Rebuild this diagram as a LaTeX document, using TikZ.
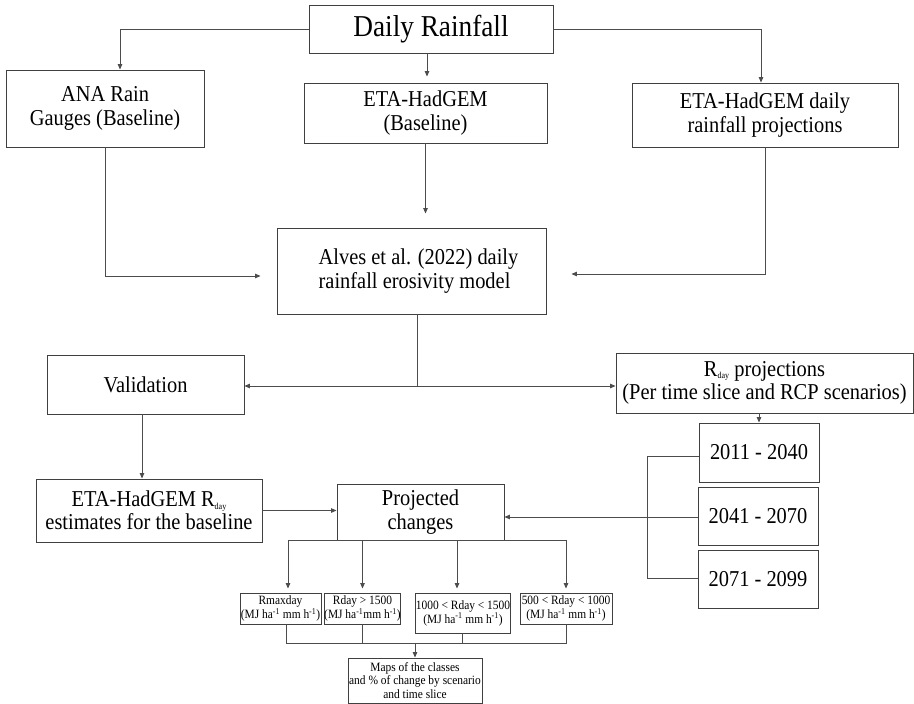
\documentclass[tikz,border=0pt]{standalone}
\usepackage{fontspec}
\setmainfont[FakeStretch=0.9]{Liberation Serif}
\usetikzlibrary{arrows.meta}
\newcommand{\rsub}[1]{\raisebox{-2.5pt}{\fontsize{9}{9}\selectfont #1}}
\tikzset{
  box/.style={draw=black!75, line width=0.9pt, inner sep=0pt, align=center, fill=white},
  bigtxt/.style={font=\fontsize{30.3}{33}\selectfont},
  midtxt/.style={font=\fontsize{22.7}{23.3}\selectfont},
  smalltxt/.style={font=\fontsize{12.7}{12}\selectfont},
  maptxt/.style={font=\fontsize{12.7}{13.5}\selectfont},
  conn/.style={draw=black!70, line width=0.9pt},
  arr/.style={conn, -{Triangle[length=5.5pt,width=4.5pt]}}
}
\begin{document}
\begin{tikzpicture}[x=1pt,y=-1pt]
\useasboundingbox[fill=white] (0,0) rectangle (914,704);
% nodes
\node[box,bigtxt,minimum width=244pt,minimum height=48pt] (daily) at (431,29) {Daily Rainfall};
\node[box,midtxt,minimum width=198pt,minimum height=77pt] (ana) at (105,108.5) {ANA Rain\\Gauges (Baseline)};
\node[box,midtxt,minimum width=243pt,minimum height=60pt] (mid) at (425.5,113) {ETA-HadGEM\\(Baseline)};
\node[box,midtxt,minimum width=266pt,minimum height=64pt] (right) at (765,115) {ETA-HadGEM daily\\rainfall projections};
\node[box,midtxt,align=left,minimum width=269pt,minimum height=86pt] (alves) at (411.5,271) {\hspace*{14pt}Alves et al. (2022) daily\\\hspace*{14pt}rainfall erosivity model};
\node[box,midtxt,minimum width=197pt,minimum height=59pt] (val) at (145.5,384.5) {Validation};
\node[box,midtxt,minimum width=297pt,minimum height=60pt] (rday) at (764.5,383) {R\rsub{day} projections\\(Per time slice and RCP scenarios)};
\node[box,midtxt,minimum width=120pt,minimum height=59pt] (y1) at (759,452.5) {2011 - 2040};
\node[box,midtxt,minimum width=120pt,minimum height=58pt] (y2) at (758,516) {2041 - 2070};
\node[box,midtxt,minimum width=120pt,minimum height=58pt] (y3) at (758,579) {2071 - 2099};
\node[box,midtxt,minimum width=226pt,minimum height=63pt] (etar) at (149,510.5) {ETA-HadGEM R\rsub{day}\\estimates for the baseline};
\node[box,midtxt,minimum width=167pt,minimum height=56pt] (proj) at (420.5,512) {Projected\\changes};
\node[box,smalltxt,minimum width=81pt,minimum height=31pt] (b1) at (280.5,608.5) {Rmaxday\\(MJ ha\textsuperscript{-1} mm h\textsuperscript{-1})};
\node[box,smalltxt,minimum width=71pt,minimum height=31pt] (b2) at (362.5,608.5) {Rday > 1500\\(MJ ha\textsuperscript{-1}mm h\textsuperscript{-1})};
\node[box,smalltxt,font=\fontsize{12.7}{14}\selectfont,minimum width=92pt,minimum height=40pt] (b3) at (463,613) {1000 < Rday < 1500\\(MJ ha\textsuperscript{-1} mm h\textsuperscript{-1})};
\node[box,smalltxt,minimum width=92pt,minimum height=31pt] (b4) at (566,608.5) {500 < Rday < 1000\\(MJ ha\textsuperscript{-1} mm h\textsuperscript{-1})};
\node[box,maptxt,minimum width=134pt,minimum height=45pt] (maps) at (415,680.5) {Maps of the classes\\and \% of change by scenario\\and time slice};
% top connectors
\draw[arr] (daily.west) -| ([xshift=15pt]ana.north);
\coordinate (dsouth) at ([xshift=-4pt]daily.south);
\draw[arr,shorten >=6pt] (dsouth) -- (dsouth |- mid.north);
\draw[arr] (daily.east) -| ([xshift=-4pt]right.north);
\draw[arr,shorten >=16pt] (ana.south) |- ([yshift=-5pt]alves.west);
\draw[arr,shorten >=14pt] (mid.south) -- (mid.south |- alves.north);
\draw[arr,shorten >=25pt] (right.south) |- ([yshift=-3pt]alves.east);
% split below model
\coordinate (asouth) at ([xshift=5.5pt]alves.south);
\coordinate (veast) at ([yshift=-1.5pt]val.east);
\coordinate (split) at (asouth |- veast);
\draw[conn] (asouth) -- (split);
\draw[arr] (split) -- (split -| val.east);
\draw[arr] (split) -- (split -| rday.west);
% projections to time slices
\draw[arr] (y1.north |- rday.south) -- (y1.north);
\draw[conn] ([yshift=-3.5pt]y1.west) -- ++(-51,0) |- ([yshift=1pt]y3.west);
\coordinate (y2w) at ([yshift=-1pt]y2.west);
\draw[arr] (y2w) -- (y2w -| proj.east);
% validation path
\coordinate (vsouth) at ([xshift=-3.5pt]val.south);
\draw[arr] (vsouth) -- (vsouth |- etar.north);
\draw[arr] (etar.east) -- (etar.east -| proj.west);
% projected changes to classes
\coordinate (b1n) at ([xshift=7.5pt]b1.north);
\coordinate (b3n) at ([xshift=-6pt]b3.north);
\coordinate (pl) at (b1n |- proj.south);
\coordinate (pr) at (b4.north |- proj.south);
\draw[conn] (pl) -- (pr);
\draw[arr,shorten >=4pt] (pl) -- (b1n);
\draw[arr,shorten >=4pt] (b2.north |- proj.south) -- (b2.north);
\draw[arr,shorten >=4pt] (b3n |- proj.south) -- (b3n);
\draw[arr,shorten >=4pt] (pr) -- (b4.north);
% classes to maps
\coordinate (jn) at ([yshift=14pt]maps.north);
\coordinate (b1s) at ([xshift=5.5pt]b1.south);
\coordinate (b3s) at ([xshift=-1pt]b3.south);
\draw[conn] (b1s) -- (b1s |- jn) -- (b4.south |- jn) -- (b4.south);
\draw[conn] (b2.south) -- (b2.south |- jn);
\draw[conn] (b3s) -- (b3s |- jn);
\draw[arr] (jn) -- (maps.north);
\end{tikzpicture}
\end{document}
